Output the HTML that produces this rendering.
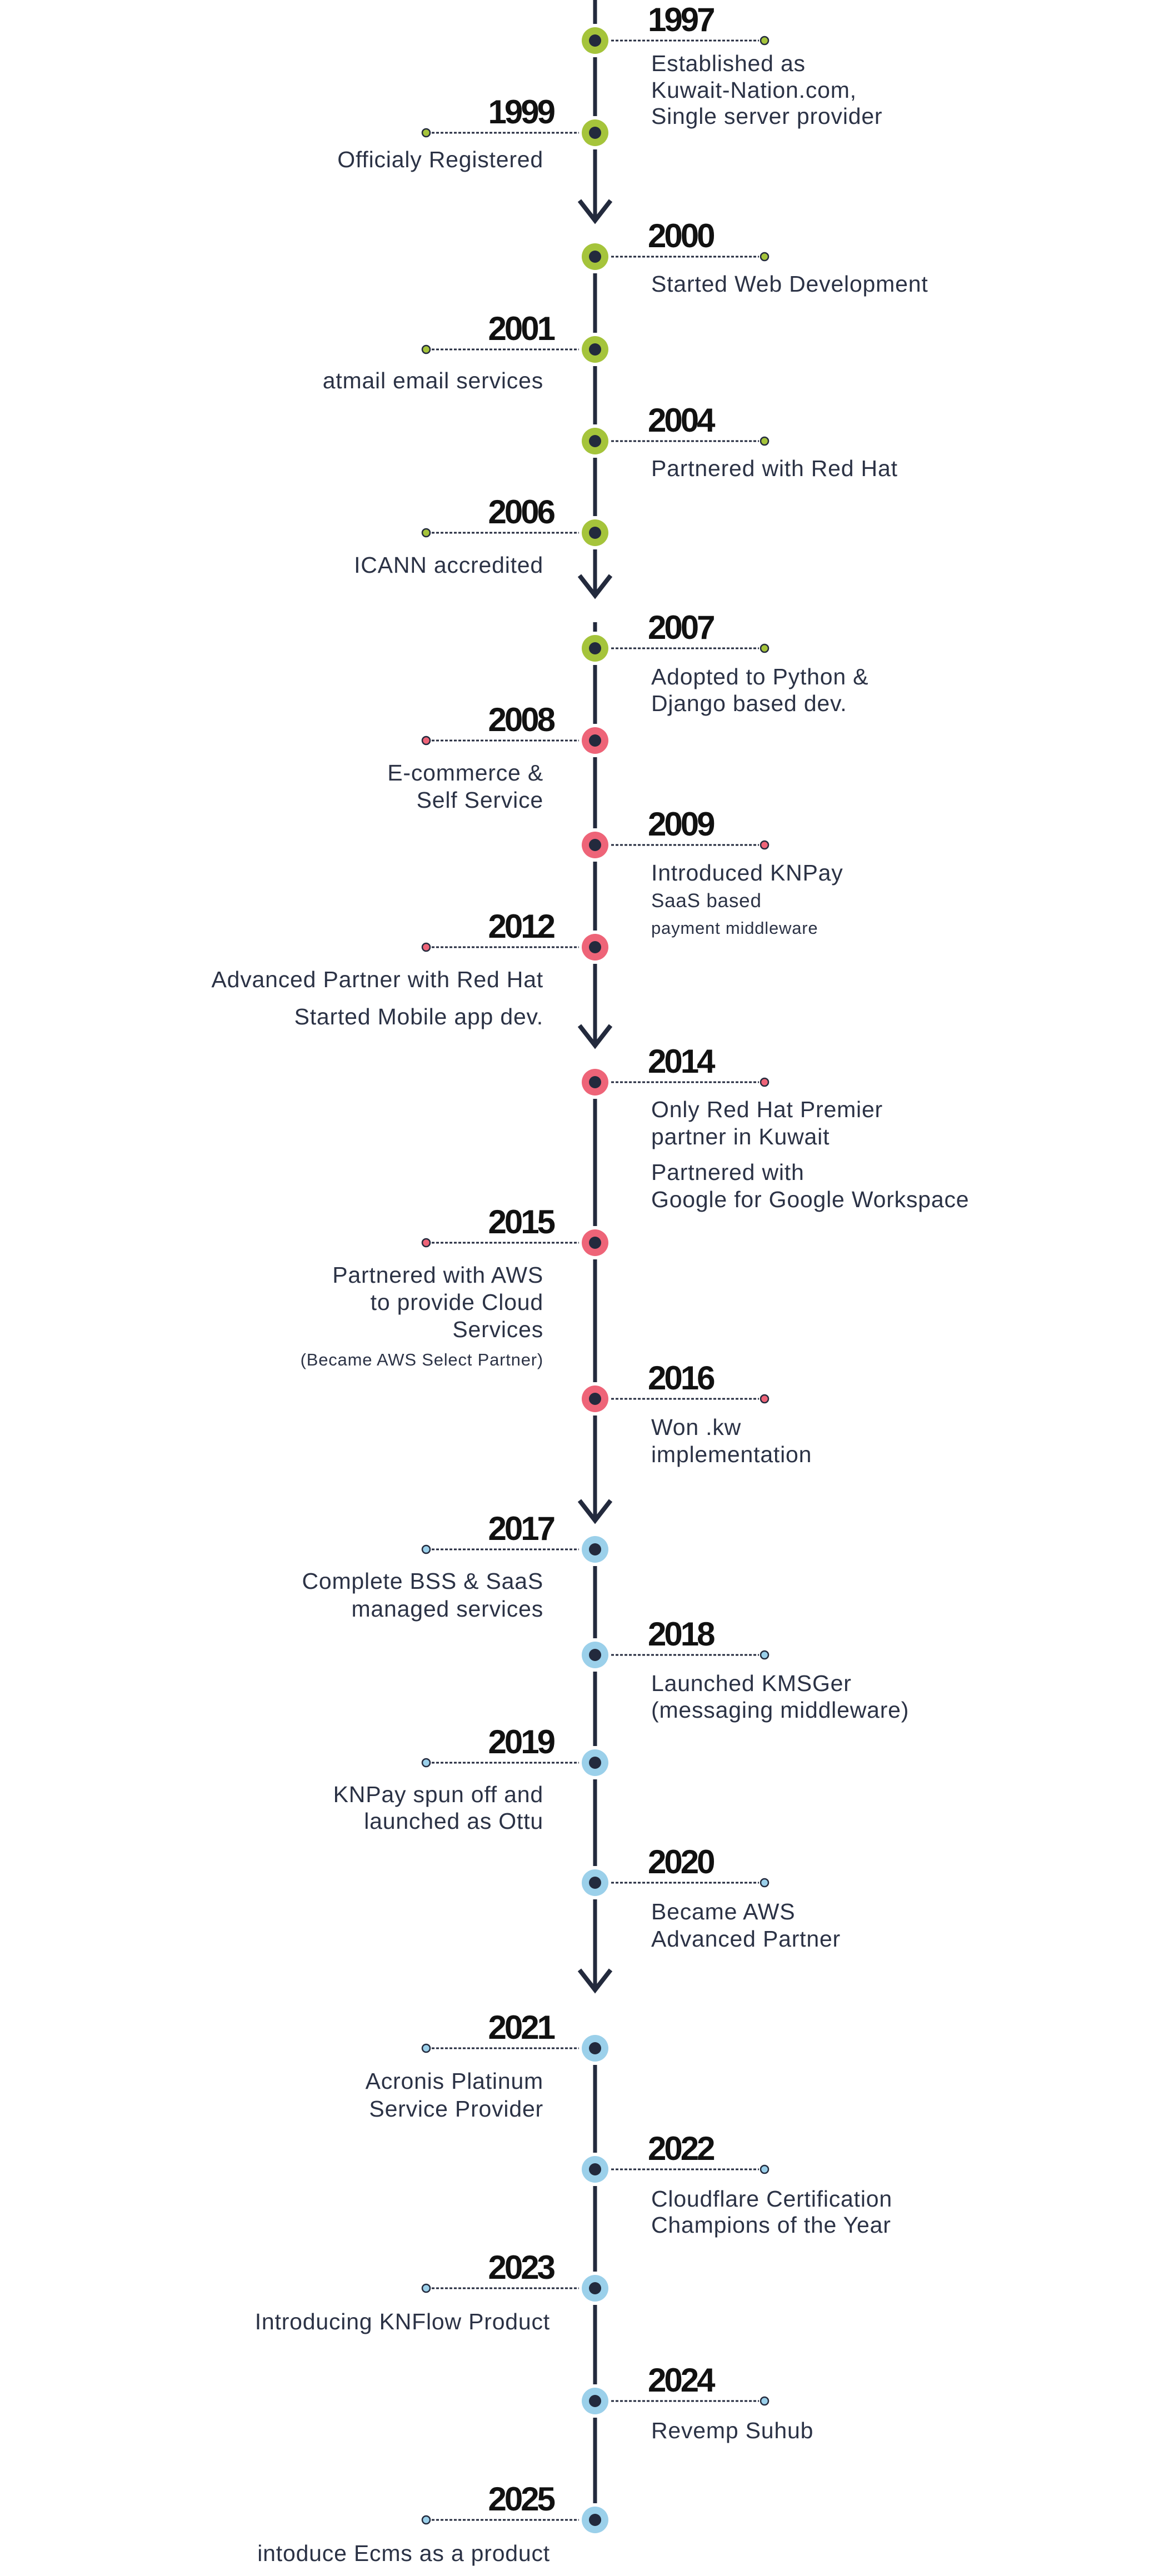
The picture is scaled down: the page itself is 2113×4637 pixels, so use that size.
<!DOCTYPE html>
<html><head><meta charset="utf-8"><style>
html,body{margin:0;padding:0;background:#fff;}
svg{display:block;}
.y{font-family:"Liberation Sans",sans-serif;font-weight:bold;font-size:60px;letter-spacing:-4px;fill:#111;}
.d{font-family:"Liberation Sans",sans-serif;font-size:41px;letter-spacing:0.8px;fill:#2b3245;}
.s{font-size:35px;}
.xs{font-size:31px;}
</style></head><body>
<svg width="2113" height="4637" viewBox="0 0 2113 4637" xmlns="http://www.w3.org/2000/svg">
<g stroke="#232a3d" stroke-width="7" fill="none">
<line x1="1071" y1="0" x2="1071" y2="43"/>
<line x1="1071" y1="103" x2="1071" y2="209"/>
<line x1="1071" y1="269" x2="1071" y2="397"/>
<line x1="1071" y1="492" x2="1071" y2="599"/>
<line x1="1071" y1="659" x2="1071" y2="764"/>
<line x1="1071" y1="824" x2="1071" y2="929"/>
<line x1="1071" y1="989" x2="1071" y2="1072"/>
<line x1="1071" y1="1120" x2="1071" y2="1137"/>
<line x1="1071" y1="1197" x2="1071" y2="1303"/>
<line x1="1071" y1="1363" x2="1071" y2="1491"/>
<line x1="1071" y1="1551" x2="1071" y2="1675"/>
<line x1="1071" y1="1735" x2="1071" y2="1882"/>
<line x1="1071" y1="1978" x2="1071" y2="2207"/>
<line x1="1071" y1="2267" x2="1071" y2="2488"/>
<line x1="1071" y1="2548" x2="1071" y2="2737"/>
<line x1="1071" y1="2819" x2="1071" y2="2949"/>
<line x1="1071" y1="3009" x2="1071" y2="3143"/>
<line x1="1071" y1="3203" x2="1071" y2="3359"/>
<line x1="1071" y1="3419" x2="1071" y2="3582"/>
<line x1="1071" y1="3717" x2="1071" y2="3875"/>
<line x1="1071" y1="3935" x2="1071" y2="4089"/>
<line x1="1071" y1="4149" x2="1071" y2="4292"/>
<line x1="1071" y1="4352" x2="1071" y2="4506"/>
</g>
<g stroke="#232a3d" stroke-width="8" fill="none" stroke-linejoin="miter">
<polyline points="1043,361 1071,397 1099,361"/>
<polyline points="1043,1036 1071,1072 1099,1036"/>
<polyline points="1043,1846 1071,1882 1099,1846"/>
<polyline points="1043,2701 1071,2737 1099,2701"/>
<polyline points="1043,3546 1071,3582 1099,3546"/>
</g>
<g stroke="#232a3d" stroke-width="3" stroke-dasharray="5,3">
<line x1="1100" y1="73" x2="1366" y2="73"/>
<line x1="777" y1="239" x2="1042" y2="239"/>
<line x1="1100" y1="462" x2="1366" y2="462"/>
<line x1="777" y1="629" x2="1042" y2="629"/>
<line x1="1100" y1="794" x2="1366" y2="794"/>
<line x1="777" y1="959" x2="1042" y2="959"/>
<line x1="1100" y1="1167" x2="1366" y2="1167"/>
<line x1="777" y1="1333" x2="1042" y2="1333"/>
<line x1="1100" y1="1521" x2="1366" y2="1521"/>
<line x1="777" y1="1705" x2="1042" y2="1705"/>
<line x1="1100" y1="1948" x2="1366" y2="1948"/>
<line x1="777" y1="2237" x2="1042" y2="2237"/>
<line x1="1100" y1="2518" x2="1366" y2="2518"/>
<line x1="777" y1="2789" x2="1042" y2="2789"/>
<line x1="1100" y1="2979" x2="1366" y2="2979"/>
<line x1="777" y1="3173" x2="1042" y2="3173"/>
<line x1="1100" y1="3389" x2="1366" y2="3389"/>
<line x1="777" y1="3687" x2="1042" y2="3687"/>
<line x1="1100" y1="3905" x2="1366" y2="3905"/>
<line x1="777" y1="4119" x2="1042" y2="4119"/>
<line x1="1100" y1="4322" x2="1366" y2="4322"/>
<line x1="777" y1="4536" x2="1042" y2="4536"/>
</g>
<g>
<g fill="#a5c43b">
<circle cx="1071" cy="73" r="24"/><circle cx="1071" cy="239" r="24"/><circle cx="1071" cy="462" r="24"/>
<circle cx="1071" cy="629" r="24"/><circle cx="1071" cy="794" r="24"/><circle cx="1071" cy="959" r="24"/>
<circle cx="1071" cy="1167" r="24"/>
</g>
<g fill="#a5c43b" stroke="#232a3d" stroke-width="2.5">
<circle cx="1376" cy="73" r="7"/><circle cx="767" cy="239" r="7"/><circle cx="1376" cy="462" r="7"/>
<circle cx="767" cy="629" r="7"/><circle cx="1376" cy="794" r="7"/><circle cx="767" cy="959" r="7"/>
<circle cx="1376" cy="1167" r="7"/>
</g>
<g fill="#ee6478">
<circle cx="1071" cy="1333" r="24"/><circle cx="1071" cy="1521" r="24"/><circle cx="1071" cy="1705" r="24"/>
<circle cx="1071" cy="1948" r="24"/><circle cx="1071" cy="2237" r="24"/><circle cx="1071" cy="2518" r="24"/>
</g>
<g fill="#ee6478" stroke="#232a3d" stroke-width="2.5">
<circle cx="767" cy="1333" r="7"/><circle cx="1376" cy="1521" r="7"/><circle cx="767" cy="1705" r="7"/>
<circle cx="1376" cy="1948" r="7"/><circle cx="767" cy="2237" r="7"/><circle cx="1376" cy="2518" r="7"/>
</g>
<g fill="#9bd0ea">
<circle cx="1071" cy="2789" r="24"/><circle cx="1071" cy="2979" r="24"/><circle cx="1071" cy="3173" r="24"/>
<circle cx="1071" cy="3389" r="24"/><circle cx="1071" cy="3687" r="24"/><circle cx="1071" cy="3905" r="24"/>
<circle cx="1071" cy="4119" r="24"/><circle cx="1071" cy="4322" r="24"/><circle cx="1071" cy="4536" r="24"/>
</g>
<g fill="#9bd0ea" stroke="#232a3d" stroke-width="2.5">
<circle cx="767" cy="2789" r="7"/><circle cx="1376" cy="2979" r="7"/><circle cx="767" cy="3173" r="7"/>
<circle cx="1376" cy="3389" r="7"/><circle cx="767" cy="3687" r="7"/><circle cx="1376" cy="3905" r="7"/>
<circle cx="767" cy="4119" r="7"/><circle cx="1376" cy="4322" r="7"/><circle cx="767" cy="4536" r="7"/>
</g>
<g fill="#232a3d">
<circle cx="1071" cy="73" r="11"/><circle cx="1071" cy="239" r="11"/><circle cx="1071" cy="462" r="11"/>
<circle cx="1071" cy="629" r="11"/><circle cx="1071" cy="794" r="11"/><circle cx="1071" cy="959" r="11"/>
<circle cx="1071" cy="1167" r="11"/><circle cx="1071" cy="1333" r="11"/><circle cx="1071" cy="1521" r="11"/>
<circle cx="1071" cy="1705" r="11"/><circle cx="1071" cy="1948" r="11"/><circle cx="1071" cy="2237" r="11"/>
<circle cx="1071" cy="2518" r="11"/><circle cx="1071" cy="2789" r="11"/><circle cx="1071" cy="2979" r="11"/>
<circle cx="1071" cy="3173" r="11"/><circle cx="1071" cy="3389" r="11"/><circle cx="1071" cy="3687" r="11"/>
<circle cx="1071" cy="3905" r="11"/><circle cx="1071" cy="4119" r="11"/><circle cx="1071" cy="4322" r="11"/>
<circle cx="1071" cy="4536" r="11"/>
</g>
</g>
<g class="y">
<text x="1166" y="56">1997</text>
<text x="1166" y="445">2000</text>
<text x="1166" y="777">2004</text>
<text x="1166" y="1150">2007</text>
<text x="1166" y="1504">2009</text>
<text x="1166" y="1931">2014</text>
<text x="1166" y="2501">2016</text>
<text x="1166" y="2962">2018</text>
<text x="1166" y="3372">2020</text>
<text x="1166" y="3888">2022</text>
<text x="1166" y="4305">2024</text>
</g>
<g class="y" text-anchor="end">
<text x="996" y="222">1999</text>
<text x="996" y="612">2001</text>
<text x="996" y="942">2006</text>
<text x="996" y="1316">2008</text>
<text x="996" y="1688">2012</text>
<text x="996" y="2220">2015</text>
<text x="996" y="2772">2017</text>
<text x="996" y="3156">2019</text>
<text x="996" y="3670">2021</text>
<text x="996" y="4102">2023</text>
<text x="996" y="4519">2025</text>
</g>
<g class="d">
<text x="1172" y="128">Established as</text>
<text x="1172" y="176">Kuwait-Nation.com,</text>
<text x="1172" y="223">Single server provider</text>
<text x="1172" y="525">Started Web Development</text>
<text x="1172" y="857">Partnered with Red Hat</text>
<text x="1172" y="1232">Adopted to Python &amp;</text>
<text x="1172" y="1280">Django based dev.</text>
<text x="1172" y="1585">Introduced KNPay</text>
<text x="1172" y="1633" class="s">SaaS based</text>
<text x="1172" y="1681" class="xs">payment middleware</text>
<text x="1172" y="2011">Only Red Hat Premier</text>
<text x="1172" y="2060">partner in Kuwait</text>
<text x="1172" y="2124">Partnered with</text>
<text x="1172" y="2173">Google for Google Workspace</text>
<text x="1172" y="2583">Won .kw</text>
<text x="1172" y="2632">implementation</text>
<text x="1172" y="3044">Launched KMSGer</text>
<text x="1172" y="3092">(messaging middleware)</text>
<text x="1172" y="3455">Became AWS</text>
<text x="1172" y="3504">Advanced Partner</text>
<text x="1172" y="3972">Cloudflare Certification</text>
<text x="1172" y="4019">Champions of the Year</text>
<text x="1172" y="4389">Revemp Suhub</text>
</g>
<g class="d" text-anchor="end">
<text x="978" y="301">Officialy Registered</text>
<text x="978" y="699">atmail email services</text>
<text x="978" y="1031">ICANN accredited</text>
<text x="978" y="1405">E-commerce &amp;</text>
<text x="978" y="1454">Self Service</text>
<text x="978" y="1777">Advanced Partner with Red Hat</text>
<text x="978" y="1844">Started Mobile app dev.</text>
<text x="978" y="2309">Partnered with AWS</text>
<text x="978" y="2358">to provide Cloud</text>
<text x="978" y="2407">Services</text>
<text x="978" y="2458" class="xs">(Became AWS Select Partner)</text>
<text x="978" y="2860">Complete BSS &amp; SaaS</text>
<text x="978" y="2910">managed services</text>
<text x="978" y="3244">KNPay spun off and</text>
<text x="978" y="3292">launched as Ottu</text>
<text x="978" y="3760">Acronis Platinum</text>
<text x="978" y="3810">Service Provider</text>
<text x="990" y="4193">Introducing KNFlow Product</text>
<text x="990" y="4610">intoduce Ecms as a product</text>
</g>
</svg>
</body></html>
